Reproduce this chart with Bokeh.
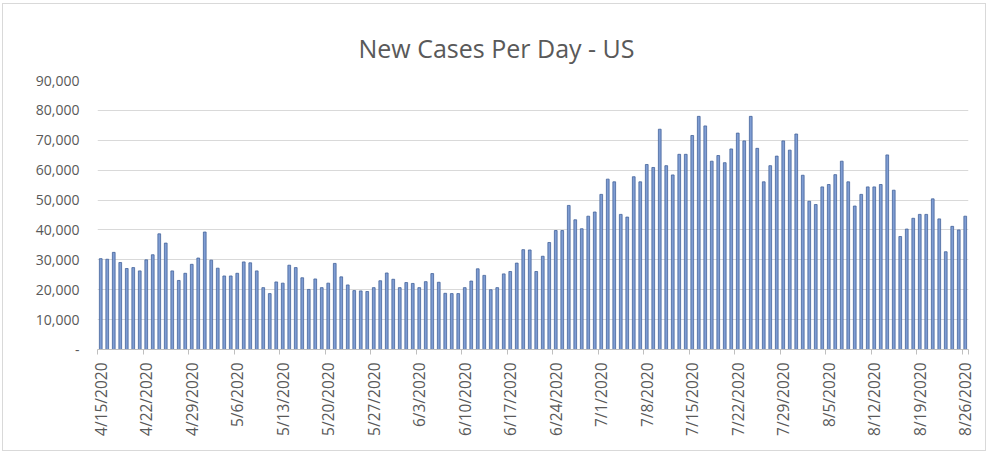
import math
from bokeh.plotting import figure
from bokeh.models import FixedTicker, ColumnDataSource
from bokeh.embed import file_html
from bokeh.resources import INLINE

# ---- data ----
title_text = "New Cases Per Day - US"

day_index = list(range(134))  # 4/15/2020 .. 8/26/2020

new_cases = [
    30400, 30200, 32500, 29100, 27100, 27400, 26300, 30000, 31700, 38700,
    35600, 26300, 23100, 25500, 28500, 30600, 39300, 29900, 27200, 24600,
    24600, 25500, 29300, 29000, 26300, 20700, 18700, 22600, 22200, 28200,
    27400, 24000, 20100, 23600, 20700, 22200, 28800, 24300, 21600, 19700,
    19600, 19400, 20700, 23000, 25600, 23500, 20700, 22400, 22100, 20700,
    22700, 25400, 22500, 18800, 18700, 18700, 20700, 22900, 27000, 24800,
    20000, 20700, 25300, 26100, 28900, 33400, 33300, 26100, 31200, 35800,
    39800, 39800, 48200, 43400, 40400, 44600, 46000, 51900, 57000, 56100,
    45200, 44300, 57800, 56100, 61900, 60900, 73700, 61500, 58400, 65300,
    65300, 71600, 78000, 74800, 63000, 64900, 62500, 67100, 72400, 69800,
    78000, 67300, 56100, 61500, 64700, 69800, 66700, 72100, 58300, 49600,
    48500, 54400, 55200, 58500, 63000, 56100, 48000, 51900, 54400, 54400,
    55200, 65100, 53300, 37800, 40300, 43900, 45200, 45200, 50400, 43700,
    32700, 41200, 40000, 44600,
]

x_tick_labels = [
    "4/15/2020", "4/22/2020", "4/29/2020", "5/6/2020", "5/13/2020",
    "5/20/2020", "5/27/2020", "6/3/2020", "6/10/2020", "6/17/2020",
    "6/24/2020", "7/1/2020", "7/8/2020", "7/15/2020", "7/22/2020",
    "7/29/2020", "8/5/2020", "8/12/2020", "8/19/2020", "8/26/2020",
]
x_tick_positions = [7 * i for i in range(len(x_tick_labels))]

y_ticks = [0, 10000, 20000, 30000, 40000, 50000, 60000, 70000, 80000, 90000]
y_tick_labels = ["-", "10,000", "20,000", "30,000", "40,000", "50,000",
                 "60,000", "70,000", "80,000", "90,000"]

# ---- figure ----
TEXT = "#595959"
FONT = "Open Sans"

p = figure(
    width=984, height=448,
    x_range=(-0.5, 133.5), y_range=(0, 90000),
    output_backend="svg", toolbar_location=None,
    title=title_text,
    min_border_left=94, min_border_right=19,
    min_border_top=76, min_border_bottom=103,
)
p.styles = {"border": "1px solid #d9d9d9", "margin": "3px 0 0 2px"}

p.title.align = "left"
p.title.vertical_align = "top"
p.title.offset = 261
p.title.standoff = 28
p.title.text_font = FONT
p.title.text_font_size = "25px"
p.title.text_font_style = "normal"
p.title.text_color = TEXT

src = ColumnDataSource(dict(x=day_index, y=new_cases))
p.vbar(x="x", top="y", width=0.42, source=src,
       fill_color="#7f9dd3", line_color="#44639b", line_width=0.8)

# y axis
p.yaxis.ticker = FixedTicker(ticks=y_ticks)
p.yaxis.major_label_overrides = {t: lab for t, lab in zip(y_ticks, y_tick_labels)}
p.yaxis.axis_line_color = None
p.yaxis.major_tick_line_color = None
p.yaxis.minor_tick_line_color = None
p.yaxis.major_label_standoff = 12
p.yaxis.major_label_text_font = FONT
p.yaxis.major_label_text_font_size = "14px"
p.yaxis.major_label_text_color = TEXT

# x axis
boundaries = [7 * i - 0.5 for i in range(20)] + [133.5]
p.xaxis.ticker = FixedTicker(ticks=x_tick_positions, minor_ticks=boundaries)
p.xaxis.major_label_overrides = {t: lab for t, lab in zip(x_tick_positions, x_tick_labels)}
p.xaxis.major_label_orientation = math.pi / 2
p.xaxis.axis_line_color = "#bfbfbf"
p.xaxis.major_tick_line_color = None
p.xaxis.minor_tick_line_color = "#bfbfbf"
p.xaxis.minor_tick_in = 0
p.xaxis.minor_tick_out = 5
p.xaxis.major_tick_out = 0
p.xaxis.major_tick_in = 0
p.xaxis.major_label_standoff = 8
p.xaxis.major_label_text_font = FONT
p.xaxis.major_label_text_font_size = "15.5px"
p.xaxis.major_label_text_color = TEXT

p.xgrid.grid_line_color = None
p.ygrid.grid_line_color = "#d9d9d9"
p.ygrid.grid_line_width = 1
p.outline_line_color = None
p.background_fill_color = "white"
p.border_fill_color = "white"

open("out.html", "w").write(file_html(p, INLINE))
